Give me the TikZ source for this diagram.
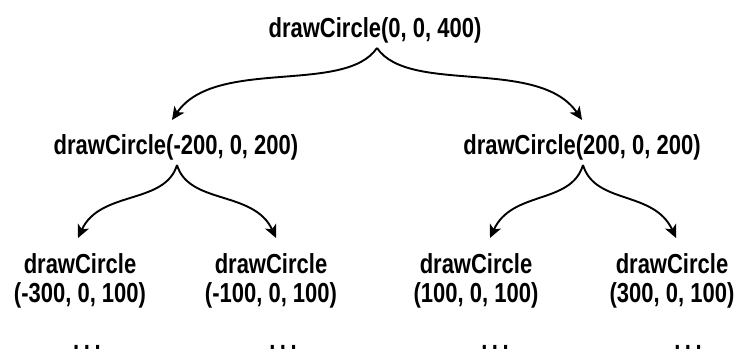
\documentclass[tikz,border=0pt]{standalone}
\usepackage{fontspec}
\setmainfont{Liberation Sans}[FakeStretch=0.8]
\usetikzlibrary{arrows.meta}
\begin{document}
\begin{tikzpicture}[x=1pt,y=-1pt,
  lbl/.style={anchor=base,inner sep=0pt,font=\fontsize{27.5}{32}\selectfont\bfseries},
  dots/.style={anchor=base,inner sep=0pt,font=\fontsize{27.5}{32}\selectfont\bfseries},
  arr/.style={line width=1.9pt,-{Stealth[length=13pt,width=12pt,inset=3.5pt]}}]
\useasboundingbox (0,0) rectangle (746,363);
% texts
\node[lbl] (top) at (375,38) {drawCircle(0, 0, 400)};
\node[lbl] (la) at (176,155) {drawCircle(-200, 0, 200)};
\node[lbl] (ra) at (582,155) {drawCircle(200, 0, 200)};
\node[lbl] (c1a) at (80,273) {drawCircle};
\node[lbl] (c1b) at (80,302) {(-300, 0, 100)};
\node[lbl] (c2a) at (271,273) {drawCircle};
\node[lbl] (c2b) at (271,302) {(-100, 0, 100)};
\node[lbl] (c3a) at (476,273) {drawCircle};
\node[lbl] (c3b) at (476,302) {(100, 0, 100)};
\node[lbl] (c4a) at (672,273) {drawCircle};
\node[lbl] (c4b) at (672,302) {(300, 0, 100)};
\node[dots] (d1) at (87,349) {.\,.\,.};
\node[dots] (d2) at (283,349) {.\,.\,.};
\node[dots] (d3) at (495,349) {.\,.\,.};
\node[dots] (d4) at (688,349) {.\,.\,.};
% connectors
\draw[arr] ([xshift=2pt,yshift=-10pt]top.base) .. controls +(-32,47) and +(43,-63) .. ([xshift=-4pt,yshift=35pt]la.base);
\draw[arr] ([xshift=2pt,yshift=-10pt]top.base) .. controls +(32,47) and +(-43,-63) .. ([xshift=0pt,yshift=35pt]ra.base);
\draw[arr] ([xshift=1pt,yshift=-10pt]la.base) .. controls +(-12,40) and +(22,-48) .. ([xshift=-2pt,yshift=35pt]c1a.base);
\draw[arr] ([xshift=1pt,yshift=-10pt]la.base) .. controls +(12,40) and +(-22,-48) .. ([xshift=5pt,yshift=35pt]c2a.base);
\draw[arr] ([xshift=1pt,yshift=-10pt]ra.base) .. controls +(-12,40) and +(22,-48) .. ([xshift=14pt,yshift=35pt]c3a.base);
\draw[arr] ([xshift=1pt,yshift=-10pt]ra.base) .. controls +(12,40) and +(-22,-48) .. ([xshift=4pt,yshift=35pt]c4a.base);
\end{tikzpicture}
\end{document}
